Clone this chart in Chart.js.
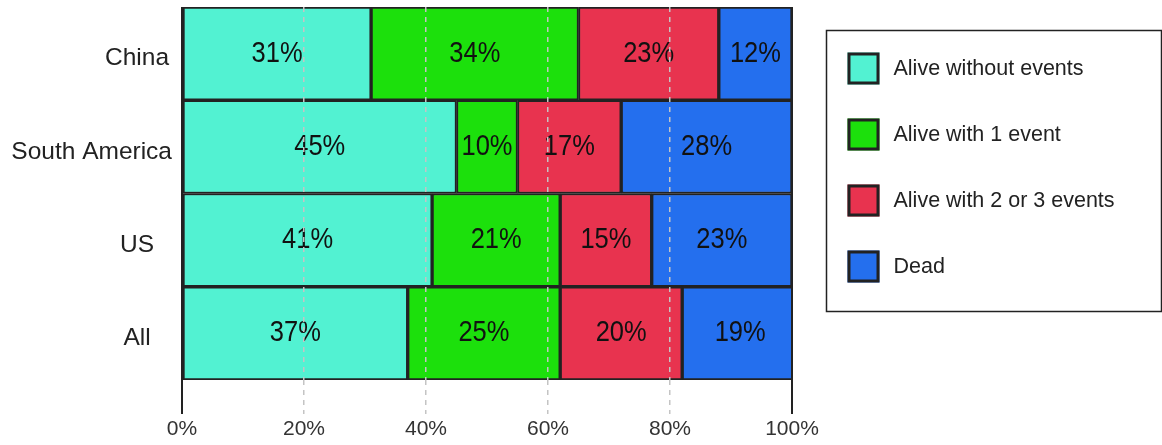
<!DOCTYPE html>
<html>
<head>
<meta charset="utf-8">
<title>Outcome by region</title>
<script src="https://cdn.jsdelivr.net/npm/chart.js@4/dist/chart.umd.min.js"></script>
<style>
  html, body { margin: 0; padding: 0; background: #fff; }
  #wrap { width: 1162px; height: 445px; position: relative; }
</style>
</head>
<body>
<div id="wrap"><canvas id="c" width="1162" height="445"></canvas></div>
<script>
// Regions (top to bottom)
const regions = ['China', 'South America', 'US', 'All'];

// Share of patients per outcome, in percent
const aliveNoEvents = [31, 45, 41, 37];
const aliveOneEvent = [34, 10, 21, 25];
const aliveTwoThree = [23, 17, 15, 20];
const dead          = [12, 28, 23, 19];

const seriesNames = ['Alive without events', 'Alive with 1 event', 'Alive with 2 or 3 events', 'Dead'];
const seriesColors = ['#52F2D2', '#1CE00C', '#E8334F', '#246FEE'];

const xTicks = [0, 20, 40, 60, 80, 100];

const FONT = '"Liberation Sans", Arial, sans-serif';
const EDGE = '#222222';

const datasets = [aliveNoEvents, aliveOneEvent, aliveTwoThree, dead].map((vals, i) => ({
  label: seriesNames[i],
  data: vals,
  backgroundColor: seriesColors[i],
  borderColor: EDGE,
  borderWidth: 2,
  borderSkipped: false,
  barPercentage: 1,
  categoryPercentage: 1
}));

// Percent labels in the middle of each segment (slightly tall lettering)
const segmentLabels = {
  id: 'segmentLabels',
  afterDatasetsDraw(chart) {
    const ctx = chart.ctx;
    chart.data.datasets.forEach((ds, i) => {
      chart.getDatasetMeta(i).data.forEach((bar, j) => {
        const p = bar.getCenterPoint();
        ctx.save();
        ctx.translate(p.x, p.y);
        ctx.scale(1, 1.15);
        ctx.font = '25.5px ' + FONT;
        ctx.fillStyle = '#111';
        ctx.textAlign = 'center';
        ctx.textBaseline = 'middle';
        ctx.fillText(ds.data[j] + '%', 0, 0);
        ctx.restore();
      });
    });
  }
};

// Region names left of the bars, centred in the label column
const regionLabels = {
  id: 'regionLabels',
  afterDraw(chart) {
    const ctx = chart.ctx;
    const y = chart.scales.y;
    const cx = chart.chartArea.left - 45;
    const maxRight = chart.chartArea.left - 10;
    ctx.save();
    ctx.font = '24.5px ' + FONT;
    ctx.fillStyle = '#222';
    ctx.textBaseline = 'middle';
    ctx.textAlign = 'left';
    chart.data.labels.forEach((lab, i) => {
      const w = ctx.measureText(lab).width;
      const x = Math.min(cx - w / 2, maxRight - w);
      ctx.fillText(lab, x, y.getPixelForValue(i) + 5);
    });
    ctx.restore();
  }
};

// Framed legend to the right of the plot
const boxedLegend = {
  id: 'boxedLegend',
  afterDraw(chart) {
    const ctx = chart.ctx;
    const area = chart.chartArea;
    const left = area.right + 34.5;
    const top = area.top + 23.5;
    const w = 335, h = 281;
    ctx.save();
    ctx.strokeStyle = EDGE;
    ctx.lineWidth = 1.5;
    ctx.strokeRect(left, top, w, h);
    ctx.font = '21.5px ' + FONT;
    ctx.textAlign = 'left';
    ctx.textBaseline = 'middle';
    chart.data.datasets.forEach((ds, i) => {
      const cy = top + 38 + i * 66;
      const sx = left + 21, size = 32;
      ctx.fillStyle = ds.backgroundColor;
      ctx.fillRect(sx, cy - size / 2, size, size);
      ctx.lineWidth = 3;
      ctx.strokeStyle = EDGE;
      ctx.strokeRect(sx + 1.5, cy - size / 2 + 1.5, size - 3, size - 3);
      ctx.fillStyle = '#222';
      ctx.fillText(ds.label, left + 67, cy + 1);
    });
    ctx.restore();
  }
};

const isEdge = ctx => ctx.tick && (ctx.tick.value === 0 || ctx.tick.value === 100);

new Chart(document.getElementById('c'), {
  type: 'bar',
  data: { labels: regions, datasets },
  options: {
    indexAxis: 'y',
    responsive: false,
    animation: false,
    events: [],
    layout: { padding: { top: 7, right: 370, left: 0, bottom: 0 } },
    plugins: {
      legend: { display: false },
      tooltip: { enabled: false }
    },
    scales: {
      x: {
        stacked: true,
        min: 0,
        max: 100,
        z: 1,
        afterBuildTicks: scale => { scale.ticks = xTicks.map(v => ({ value: v })); },
        afterFit: scale => { scale.height = 65; },
        ticks: {
          font: { family: FONT, size: 21 },
          color: '#333',
          padding: 3,
          callback: v => v + '%'
        },
        grid: {
          z: 1,
          drawOnChartArea: true,
          color: ctx => isEdge(ctx) ? EDGE : '#c4c4c4',
          lineWidth: ctx => isEdge(ctx) ? 2 : 1.5,
          tickLength: 34,
          tickColor: ctx => isEdge(ctx) ? EDGE : '#c4c4c4',
          tickWidth: ctx => isEdge(ctx) ? 2 : 1.5,
          tickBorderDash: ctx => isEdge(ctx) ? [] : [5, 5]
        },
        border: {
          display: false,
          dash: ctx => isEdge(ctx) ? [] : [5, 5]
        }
      },
      y: {
        stacked: true,
        afterFit: scale => { scale.width = 182; scale.paddingTop = 0; scale.paddingBottom = 0; },
        ticks: { display: false },
        grid: { display: false },
        border: { display: false }
      }
    }
  },
  plugins: [segmentLabels, regionLabels, boxedLegend]
});
</script>
</body>
</html>
